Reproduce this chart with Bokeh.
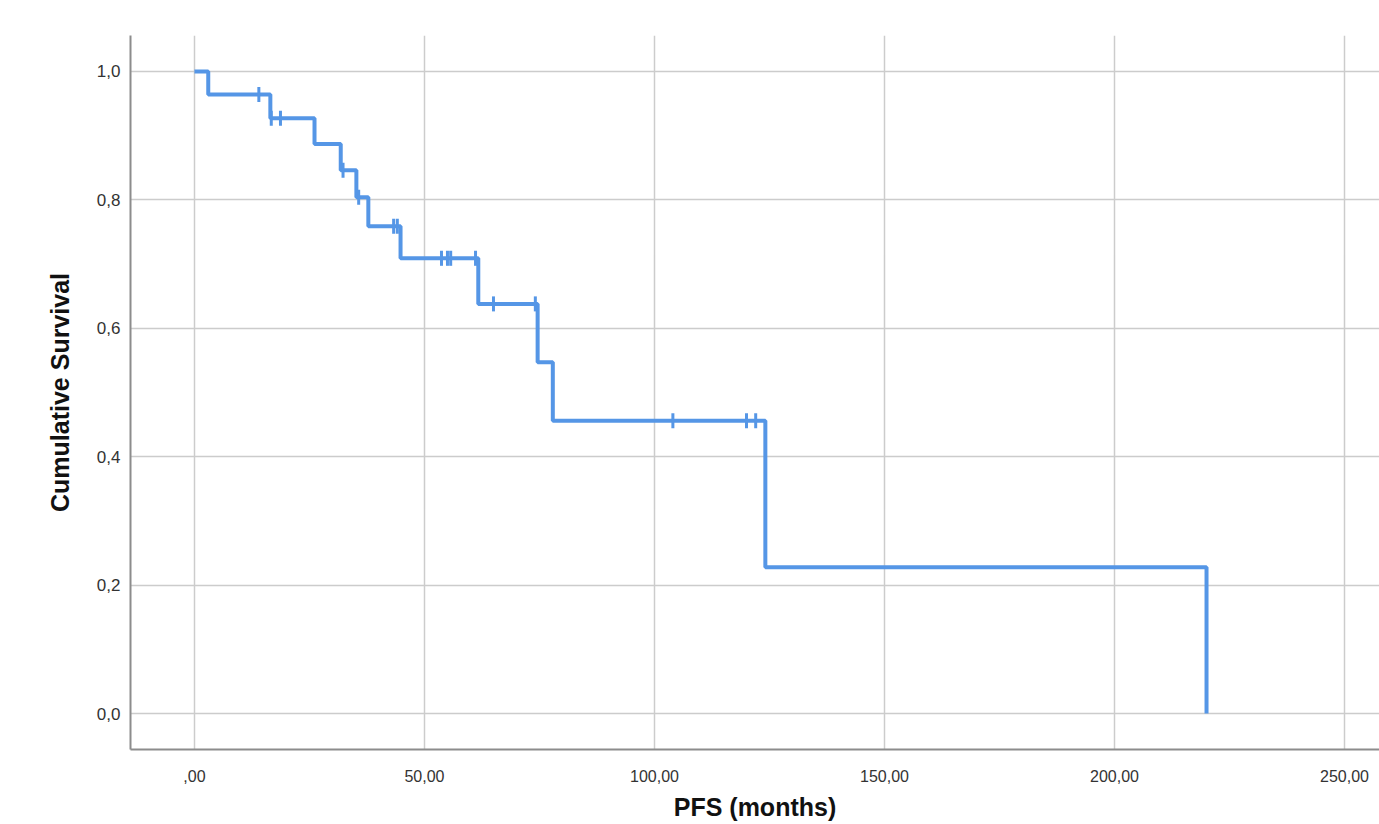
import numpy as np
from bokeh.plotting import figure
from bokeh.models import FixedTicker, Range1d
from bokeh.embed import file_html
from bokeh.resources import INLINE

# Kaplan-Meier step data
times = [0.0, 3.0, 16.5, 26.1, 31.8, 35.2, 37.8, 44.8, 61.7, 74.6, 77.9, 124.1, 220.0]
surv = [1.0, 0.964, 0.927, 0.887, 0.846, 0.804, 0.759, 0.709, 0.638, 0.547, 0.456, 0.228, 0.0]

# censored observations
cens_times = [14.0, 16.7, 18.7, 32.3, 35.7, 43.3, 44.1, 53.7, 55.0, 55.7, 61.1, 65.0, 74.1, 104.0, 120.0, 122.0]
cens_surv = [0.964, 0.927, 0.927, 0.846, 0.804, 0.759, 0.759, 0.709, 0.709, 0.709, 0.709, 0.638, 0.638, 0.456, 0.456, 0.456]

x_ticks = [0, 50, 100, 150, 200, 250]
x_tick_labels = [",00", "50,00", "100,00", "150,00", "200,00", "250,00"]
y_ticks = [0.0, 0.2, 0.4, 0.6, 0.8, 1.0]
y_tick_labels = ["0,0", "0,2", "0,4", "0,6", "0,8", "1,0"]

BLUE = "#5596E6"
FONT = "Liberation Sans"

p = figure(width=1379, height=824, output_backend="svg", toolbar_location=None,
           x_range=Range1d(-13.9, 257.6), y_range=Range1d(-0.056, 1.056),
           min_border_left=130, min_border_top=35, min_border_right=0, min_border_bottom=75)
p.outline_line_color = None

p.step(times, surv, mode="after", line_color=BLUE, line_width=4)
p.scatter(cens_times, cens_surv, marker="dash", angle=np.pi / 2, size=15,
          line_color=BLUE, line_width=3)

p.xaxis.ticker = FixedTicker(ticks=x_ticks)
p.yaxis.ticker = FixedTicker(ticks=y_ticks)
p.xaxis.major_label_overrides = {t: l for t, l in zip(x_ticks, x_tick_labels)}
p.yaxis.major_label_overrides = {t: l for t, l in zip(y_ticks, y_tick_labels)}

for ax in (p.xaxis, p.yaxis):
    ax.axis_line_color = "#8c8c8c"
    ax.axis_line_width = 2
    ax.major_tick_line_color = None
    ax.minor_tick_line_color = None
    ax.major_label_text_font = FONT
    ax.major_label_text_color = "#333333"
    ax.axis_label_text_font = FONT
    ax.axis_label_text_font_style = "bold"
    ax.axis_label_text_font_size = "25px"
    ax.axis_label_text_color = "#111111"

p.xaxis.major_label_text_font_size = "16px"
p.yaxis.major_label_text_font_size = "17px"
p.xaxis.axis_label = "PFS (months)"
p.yaxis.axis_label = "Cumulative Survival"
p.xaxis.major_label_standoff = 14
p.yaxis.major_label_standoff = 4
p.xaxis.axis_label_standoff = 8
p.yaxis.axis_label_standoff = 20

p.grid.grid_line_color = "#cccccc"
p.grid.grid_line_width = 1.5

open("out.html", "w").write(file_html(p, INLINE))
